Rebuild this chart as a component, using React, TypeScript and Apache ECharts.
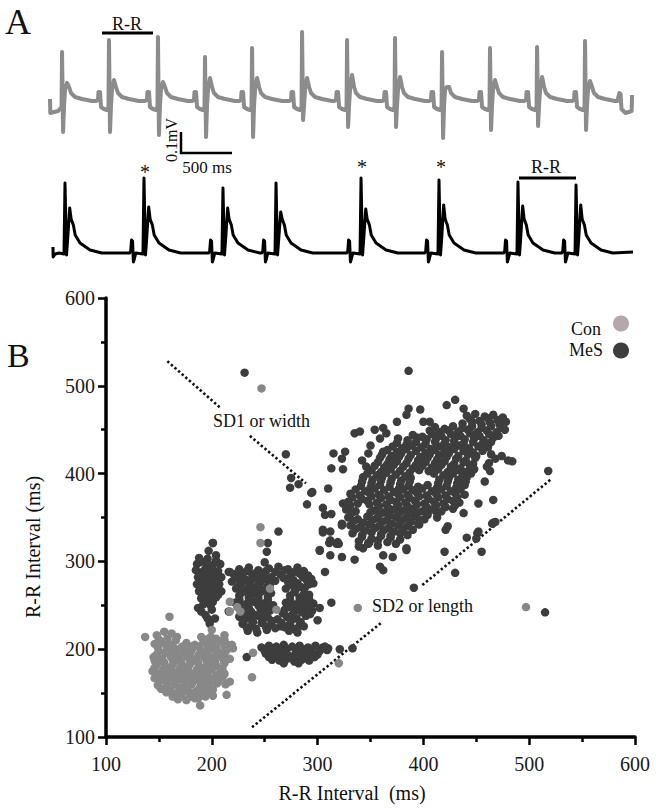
import React, { useEffect, useRef } from 'react';
import * as echarts from 'echarts';

const SERIF = "'Liberation Serif', 'Times New Roman', serif";

// ---------- Panel A: ECG traces (time in ms, amplitude in mV) ----------
const grayBeatTimes = [118, 578, 1058, 1519, 1980, 2470, 2911, 3381, 3842, 4312, 4773, 5243];
const grayRPeak = [0.245, 0.305, 0.32, 0.22, 0.265, 0.345, 0.305, 0.315, 0.245, 0.265, 0.27, 0.3];
const graySTrough = [-0.155, -0.155, -0.17, -0.18, -0.18, -0.095, -0.13, -0.13, -0.185, -0.145, -0.125, -0.145];
const grayTWave = [0.09, 0.105, 0.095, 0.115, 0.115, 0.115, 0.13, 0.12, 0.07, 0.105, 0.12, 0.1];
const grayHasP = [false, true, true, true, true, true, true, true, true, true, true, true];
const grayBeatShape: Array<[number, number | string]> = [
  [-127, 0], [-108, 0.005], [-103, 0.045], [-88, 0.045], [-78, -0.03], [-49, -0.04], [-20, -0.045], [-5, -0.03],
  [0, 'R'], [10, 'S'], [20, -0.02], [30, 0.06], [49, 'T'], [69, 0.07], [88, 0.04], [127, 0.02], [196, 0.01], [294, 0],
];
const grayStart: Array<[number, number]> = [[0, 0.01], [3, -0.06], [40, -0.055], [80, -0.05]];
const grayEnd: Array<[number, number]> = [[5560, 0], [5580, 0.04], [5592, 0.035], [5600, -0.04], [5640, -0.06], [5700, -0.05], [5704, 0.03]];

const blackBeatTimes = [147, 921, 1695, 2215, 3048, 3812, 4586, 5155];
const blackRPeak = [0.35, 0.375, 0.325, 0.35, 0.375, 0.365, 0.355, 0.34];
const blackSecondPeak = [0.225, 0.23, 0.225, 0.205, 0.22, 0.24, 0.235, 0.24];
const blackHasP = [false, true, true, true, true, true, true, true];
const blackBeatShape: Array<[number, number | string]> = [
  [-140, 0], [-130, 0.01], [-122, 0.065], [-112, 0.06], [-104, -0.045], [-95, -0.03], [-80, 0], [-10, -0.005],
  [0, 'R'], [15, -0.01], [25, 0.06], [46, 'R2'], [60, 0.17], [82, 0.14], [100, 0.09], [147, 0.05], [245, 0.015], [360, 0],
];
const blackStart: Array<[number, number]> = [[29, 0.03], [31, -0.02], [50, -0.005], [90, 0]];
const blackEnd: Array<[number, number]> = [[5713, 0.005]];

// ---------- Panel B: Poincaré plot (R-R n vs R-R n+1, ms) ----------
const mesPoints: Array<[number, number]> = [
  // narrow vertical cluster
  [201,321],[197,312],[204,307],[188,304],[196,303],[186,297],[193,298],[201,296],[208,297],[185,290],[192,289],[199,291],[206,289],
  [187,282],[194,281],[201,283],[209,282],[186,274],[193,273],[200,275],[207,274],[188,266],[195,265],[202,267],[209,266],
  [190,258],[197,257],[204,259],[192,251],[199,250],[187,247],[194,239],[200,245],[203,235],[198,229],[216,288],[216,243],
  // wide middle cluster
  [226,291],[235,293],[244,290],[254,292],[263,294],[272,291],[281,293],
  [221,285],[229,283],[238,286],[247,284],[256,282],[265,285],[274,283],[283,286],[291,284],
  [219,277],[228,275],[237,278],[246,276],[255,274],[272,277],[281,275],[290,278],[296,275],
  [223,269],[232,267],[241,270],[250,268],[270,269],[279,267],[288,270],
  [226,261],[235,259],[244,262],[253,260],[274,261],[283,259],[292,262],
  [222,253],[231,251],[240,254],[249,252],[258,250],[270,253],[279,251],[288,254],[296,252],
  [228,245],[237,243],[246,246],[255,244],[269,245],[278,243],[287,246],[295,244],
  [226,237],[235,235],[244,238],[253,236],[262,234],[271,237],[280,235],[289,238],
  [229,229],[238,227],[247,230],[256,228],[265,226],[274,229],[283,227],
  [234,221],[243,219],[252,222],[273,221],[281,219],
  // low band
  [247,202],[254,204],[261,203],[268,205],[276,203],[283,204],[291,202],[298,204],[305,202],
  [251,195],[258,194],[265,196],[272,193],[279,195],[286,194],[293,196],[300,194],
  [257,188],[264,187],[271,189],[278,186],[285,188],[292,187],
  // large upper cluster
  [441,466],[449,468],[458,465],[466,467],[475,464],
  [437,457],[446,459],[455,456],[463,458],[472,456],[478,459],
  [406,449],[415,447],[424,449],[433,448],[442,450],[451,447],[460,449],[469,447],[477,450],
  [376,440],[385,438],[394,441],[403,439],[412,440],[421,438],[430,441],[439,439],[448,440],[457,438],[466,441],
  [371,431],[380,429],[389,432],[398,430],[407,428],[416,431],[425,430],[434,432],[443,429],[452,431],[461,430],
  [361,422],[370,420],[379,423],[388,421],[397,419],[406,422],[415,421],[424,423],[433,420],[442,422],[450,420],[464,422],[474,420],
  [357,413],[366,411],[375,414],[384,412],[393,410],[402,413],[411,412],[420,414],[429,411],[438,413],[447,411],[462,412],
  [351,404],[360,402],[369,405],[378,403],[387,401],[396,404],[405,403],[414,405],[423,402],[432,404],[441,402],[448,405],[463,403],
  [343,395],[352,393],[361,396],[370,394],[379,392],[388,395],[415,393],[424,395],[433,393],[441,396],
  [341,386],[350,384],[359,387],[368,385],[377,383],[386,386],[395,385],[404,387],[413,384],[422,386],[431,384],[439,387],
  [331,377],[340,375],[349,378],[358,376],[367,374],[376,377],[385,376],[394,378],[403,375],[412,377],[421,375],[430,378],[439,376],
  [329,368],[338,366],[347,369],[356,367],[365,365],[374,368],[383,367],[392,369],[401,366],[410,368],[419,366],[428,369],[434,367],
  [327,359],[336,357],[354,358],[363,356],[372,359],[381,358],[390,360],[399,357],[408,359],[417,357],[428,360],
  [329,350],[338,348],[347,351],[356,349],[365,347],[374,350],[383,349],[392,351],[401,348],[413,350],
  [331,341],[340,339],[349,342],[358,340],[367,338],[376,341],[385,340],[396,342],
  [333,332],[342,330],[351,333],[360,331],[369,329],[378,332],[385,330],
  [339,323],[348,321],[357,324],[366,322],[374,320],
  // scattered points
  [231,515],[386,517],[518,403],[515,242],[484,414],[391,270],[270,422],[275,395],[274,384],[282,388],[295,379],[290,365],
  [305,361],[307,353],[305,336],[263,334],[253,321],[252,311],[250,299],[217,288],[201,321],[305,333],[302,313],[307,288],
  [302,247],[300,233],[233,191],[323,341],[312,324],[319,322],[312,307],[323,305],[335,302],[343,315],[349,322],[362,307],
  [371,305],[359,294],[362,290],[384,313],[420,311],[421,336],[423,340],[430,287],[441,327],[451,332],[455,311],[466,344],
  [313,253],[307,203],[310,201],[321,200],[333,201],[294,378],[310,383],[313,406],[324,405],[315,423],[326,425],[323,417],
  [335,446],[340,448],[354,450],[362,452],[365,446],[359,440],[375,459],[384,467],[386,474],[397,473],[422,478],[430,484],
  [438,474],[400,459],[406,459],[350,432],[348,423],[362,425],[342,415],[346,408],[343,396],[324,366],[323,343],[318,320],
  [452,366],[466,370],[458,391],[480,415],[438,355],[452,334],[450,326],[465,343],[468,345],[395,343],[384,315],[357,318],
  [348,320],[339,317],[313,354],[302,312],[311,321],[320,320],[312,334],
];

// extra points read inside the dense MeS clouds
const mesDenseFill: Array<[number, number]> = [
  [444,462],[453,460],[461,463],[470,461],
  [411,453],[420,451],[428,454],[437,452],[446,454],[455,452],[464,454],[473,452],
  [390,444],[399,442],[408,445],[417,443],[426,445],[435,443],[444,446],[453,443],[462,445],[471,443],
  [375,435],[384,433],[393,436],[402,434],[411,436],[420,434],[429,437],[438,434],[447,436],[456,434],[464,436],
  [366,427],[375,425],[384,428],[393,426],[402,424],[411,427],[420,425],[429,428],[438,426],[447,424],[456,426],
  [359,418],[368,416],[377,419],[386,417],[395,415],[404,418],[413,416],[422,419],[431,417],[440,415],[449,418],[468,417],
  [354,409],[363,407],[372,410],[381,408],[390,406],[399,409],[408,407],[417,410],[426,408],[435,406],[444,409],[460,408],
  [347,400],[356,398],[365,401],[374,399],[383,397],[410,400],[419,398],[428,400],[437,398],[445,400],
  [342,391],[351,389],[360,392],[369,390],[378,388],[387,391],[414,389],[423,391],[432,389],[440,391],
  [336,382],[345,380],[354,383],[363,381],[372,379],[381,382],[390,381],[399,383],[408,380],[417,382],[426,380],[435,382],
  [333,373],[342,371],[351,374],[360,372],[369,370],[378,373],[387,372],[396,374],[405,371],[414,373],[423,371],[432,373],
  [331,364],[349,365],[358,363],[367,361],[376,364],[385,363],[394,365],[403,362],[412,364],[421,362],[430,364],
  [332,355],[350,356],[359,354],[368,352],[377,355],[386,354],[395,356],[404,353],[413,355],
  [334,346],[343,344],[352,347],[361,345],[370,343],[379,346],[388,345],[397,347],
  [336,337],[345,335],[354,338],[363,336],[372,334],[381,337],[390,336],
  [342,328],[351,326],[360,329],[369,327],[378,325],
  [225,288],[233,289],[242,287],[251,289],[260,288],[269,290],[278,288],[287,289],
  [224,281],[233,279],[242,282],[251,280],[260,278],[268,281],[277,279],[286,282],[294,280],
  [226,273],[235,271],[244,274],[253,272],[275,273],[284,271],[292,274],
  [229,265],[238,263],[247,266],[256,264],[278,265],[287,263],
  [226,257],[235,255],[244,258],[253,256],[274,256],[283,255],[292,257],
  [226,249],[235,247],[244,250],[253,248],[274,248],[283,249],[292,248],
  [232,241],[241,239],[250,242],[267,241],[276,239],[285,242],[293,240],
  [230,233],[239,231],[248,234],[257,232],[266,230],[275,233],[284,231],
  [233,225],[242,223],[251,226],[260,224],[269,225],[278,223],[287,226],
  [190,300],[197,294],[204,301],[189,286],[196,285],[203,287],[190,278],[197,277],[204,279],[189,270],[196,269],[204,271],
  [191,262],[198,261],[206,262],[194,254],[201,254],[190,243],[196,235],
  [250,198],[257,200],[264,199],[271,200],[280,199],[287,200],[294,199],[302,198],[309,199],
  [254,191],[261,191],[268,192],[275,190],[282,191],[289,190],[297,191],[268,184],[282,184],
];

const conPoints: Array<[number, number]> = [
  [160,237],[200,222],[137,214],[148,216],[155,220],[162,218],[167,214],[212,216],[190,214],[199,214],
  [146,206],[153,208],[161,205],[176,207],[184,205],[192,208],[200,206],[208,209],[215,205],
  [150,198],[158,200],[166,197],[174,199],[182,201],[190,198],[198,200],[206,197],[214,199],[220,201],
  [145,191],[153,189],[161,192],[169,190],[177,192],[185,189],[193,191],[201,190],[209,192],[217,189],
  [148,183],[156,181],[164,184],[172,182],[180,184],[188,181],[196,183],[204,182],[212,184],
  [144,175],[152,173],[160,176],[168,174],[176,176],[184,173],[192,175],[200,177],[208,174],
  [146,167],[154,165],[162,168],[170,166],[178,168],[186,165],[194,167],[202,166],[210,168],[217,163],
  [149,159],[157,157],[165,160],[173,158],[181,160],[189,157],[197,159],[205,161],
  [157,151],[165,149],[173,152],[181,150],[189,148],[197,151],[214,148],
  [168,143],[176,142],[184,144],[201,147],[189,136],[238,168],
  [320,184],[338,247],[497,248],[247,497],[246,339],[246,321],[217,254],[224,248],[227,243],[217,243],
  [255,269],[261,245],[239,196],
];

const conDenseFill: Array<[number, number]> = [
  [150,211],[158,212],[166,210],[195,211],[204,212],[212,210],
  [149,202],[157,204],[165,201],[172,203],[180,203],[188,203],[196,204],[204,202],[212,203],[219,205],
  [148,194],[156,196],[164,194],[172,195],[180,196],[188,194],[196,196],[204,194],[212,195],
  [146,187],[155,185],[163,188],[171,186],[179,188],[187,185],[195,187],[203,186],[211,188],
  [146,179],[154,177],[162,180],[170,178],[178,180],[186,177],[194,179],[202,180],[210,178],
  [148,171],[156,169],[164,172],[172,170],[180,172],[188,169],[196,171],[204,170],[212,172],
  [150,163],[158,161],[166,164],[174,162],[182,164],[190,161],[198,163],[206,164],[213,160],
  [152,155],[161,153],[169,156],[177,154],[185,152],[193,155],[201,154],
  [163,146],[171,147],[179,146],[187,144],[194,146],
];

const sd1Segments: Array<Array<[number, number]>> = [[[158, 528], [208, 475]], [[236, 443], [289, 389]]];
const sd2Segments: Array<Array<[number, number]>> = [[[238, 111], [361, 231]], [[399, 273], [521, 394]]];

const axisMin = 100;
const axisMax = 600;
const axisStep = 100;

function buildTrace(
  start: Array<[number, number]>,
  times: number[],
  params: Record<string, number[]>,
  hasP: boolean[],
  shape: Array<[number, number | string]>,
  end: Array<[number, number]>,
): Array<[number, number]> {
  const pts: Array<[number, number]> = [...start];
  times.forEach((t, i) => {
    shape.forEach(([dt, v]) => {
      if (!hasP[i] && dt < -10) return;
      const val = typeof v === 'string' ? params[v][i] : v;
      pts.push([t + dt, val]);
    });
  });
  return pts.concat(end);
}

export default function App() {
  const ref = useRef<HTMLDivElement>(null);
  useEffect(() => {
    document.body.style.margin = '0';
    if (!ref.current) return;
    const chart = echarts.init(ref.current, null, { renderer: 'svg' });
    const grayTrace = buildTrace(grayStart, grayBeatTimes, { R: grayRPeak, S: graySTrough, T: grayTWave }, grayHasP, grayBeatShape, grayEnd);
    const blackTrace = buildTrace(blackStart, blackBeatTimes, { R: blackRPeak, R2: blackSecondPeak }, blackHasP, blackBeatShape, blackEnd);

    const axisText = { fontFamily: SERIF, fontSize: 20, color: '#1a1a1a' };
    const dotted = { color: '#111', width: 2.6, type: [2.4, 2.4] as any, cap: 'butt' as any };
    const sdSeries = [...sd1Segments, ...sd2Segments].map((seg) => ({
      type: 'line', xAxisIndex: 2, yAxisIndex: 2, data: seg, symbol: 'none', lineStyle: dotted, silent: true, z: 1,
    }));
    const txt = (text: string, x: number, y: number, size: number, align = 'center', extra: any = {}) => ({
      type: 'text', x, y, ...extra,
      style: { text, font: `${size}px ${SERIF}`, fill: '#111', align, verticalAlign: 'middle' },
    });
    const ln = (x1: number, y1: number, x2: number, y2: number, w = 3) => ({
      type: 'line', shape: { x1, y1, x2, y2 }, style: { stroke: '#000', lineWidth: w },
    });

    chart.setOption({
      animation: false,
      backgroundColor: '#fff',
      grid: [
        { left: 50, top: 20, width: 584, height: 130, containLabel: false, outerBoundsMode: 'none' },
        { left: 50, top: 160, width: 584, height: 110, containLabel: false, outerBoundsMode: 'none' },
        { left: 106, top: 298, width: 529, height: 439, containLabel: false, outerBoundsMode: 'none' },
      ],
      xAxis: [
        { type: 'value', gridIndex: 0, min: 0, max: 5723, show: false },
        { type: 'value', gridIndex: 1, min: 0, max: 5723, show: false },
        {
          type: 'value', gridIndex: 2, min: axisMin, max: axisMax, interval: axisStep,
          axisLine: { show: true, lineStyle: { color: '#000', width: 3.5 } },
          axisTick: { show: true, length: 8, lineStyle: { color: '#000', width: 2.5 } },
          minorTick: { show: true, splitNumber: 2, length: 5, lineStyle: { color: '#000', width: 2.5 } },
          splitLine: { show: false },
          axisLabel: { ...axisText, margin: 17 },
        },
      ],
      yAxis: [
        { type: 'value', gridIndex: 0, min: -0.245, max: 0.405, show: false },
        { type: 'value', gridIndex: 1, min: -0.085, max: 0.465, show: false },
        {
          type: 'value', gridIndex: 2, min: axisMin, max: axisMax, interval: axisStep,
          axisLine: { show: true, lineStyle: { color: '#000', width: 3.5 } },
          axisTick: { show: true, length: 8, lineStyle: { color: '#000', width: 2.5 } },
          minorTick: { show: true, splitNumber: 2, length: 5, lineStyle: { color: '#000', width: 2.5 } },
          splitLine: { show: false },
          axisLabel: { ...axisText, margin: 11 },
        },
      ],
      series: [
        {
          type: 'line', xAxisIndex: 0, yAxisIndex: 0, data: grayTrace, symbol: 'none', silent: true,
          lineStyle: { color: '#8c8c8c', width: 4, join: 'round' },
        },
        {
          type: 'line', xAxisIndex: 1, yAxisIndex: 1, data: blackTrace, symbol: 'none', silent: true,
          lineStyle: { color: '#000', width: 3, join: 'round' },
        },
        {
          name: 'MeS', type: 'scatter', xAxisIndex: 2, yAxisIndex: 2, data: [...mesPoints, ...mesDenseFill], symbolSize: 8.5,
          itemStyle: { color: '#3d3d3d', opacity: 1 }, z: 2,
        },
        {
          name: 'Con', type: 'scatter', xAxisIndex: 2, yAxisIndex: 2, data: [...conPoints, ...conDenseFill], symbolSize: 8.5,
          itemStyle: { color: '#888888', opacity: 1 }, z: 3,
        },
        ...sdSeries,
      ],
      graphic: [
        txt('A', 5, 22, 36, 'left'),
        txt('B', 7, 355, 34, 'left'),
        // panel A annotations
        txt('R-R', 127, 24, 18),
        ln(102, 33, 153, 33),
        txt('R-R', 546, 167, 18),
        ln(519, 178, 576, 178),
        txt('*', 145, 172, 20),
        txt('*', 362, 167, 20),
        txt('*', 441, 167, 20),
        // scale bar
        ln(181, 132, 181, 154, 2.5),
        ln(180, 153, 232, 153, 2.5),
        txt('0.1mV', 171, 140, 16, 'center', { rotation: Math.PI / 2 }),
        txt('500 ms', 207, 167, 17),
        // panel B texts
        txt('SD1 or width', 213, 421, 18, 'left'),
        txt('SD2 or length', 372, 606, 18, 'left'),
        txt('Con', 601, 329, 18, 'right'),
        txt('MeS', 603, 350, 18, 'right'),
        { type: 'circle', shape: { cx: 621, cy: 323.5, r: 8 }, style: { fill: '#b3a8ac' } },
        { type: 'circle', shape: { cx: 621, cy: 350.5, r: 8 }, style: { fill: '#3d3d3d' } },
        txt('R-R Interval (ms)', 33, 547, 20, 'center', { rotation: Math.PI / 2 }),
        txt('R-R Interval  (ms)', 352, 793, 20),
      ],
    });
    return () => chart.dispose();
  }, []);
  return <div ref={ref} style={{ width: 656, height: 811 }} />;
}
